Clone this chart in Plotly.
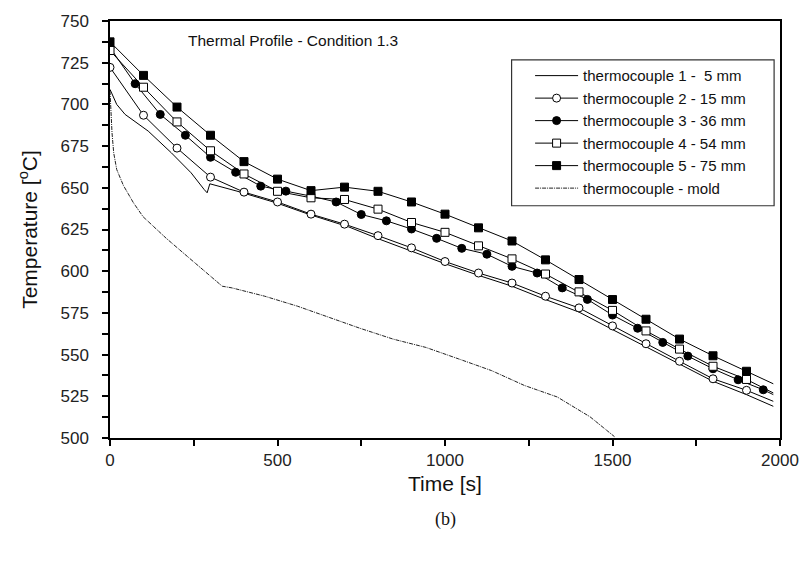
import plotly.graph_objects as go

# ---- data ----
t_tc1 = [0, 20, 45, 114, 183, 242, 281, 290, 298, 379, 496, 595, 712, 800, 900, 1000,
         1100, 1200, 1300, 1400, 1500, 1600, 1700, 1800, 1900, 1980]
T_tc1 = [709, 700, 694, 684, 671, 659, 649, 647, 652.4, 648, 641, 634, 626.6, 619.5, 612, 604.5,
         597.5, 591, 583, 575.5, 565, 554.5, 544.5, 534, 526, 519]

t_tc2 = [0, 100, 200, 300, 400, 500, 600, 700, 800, 900, 1000, 1100, 1200, 1300, 1400,
         1500, 1600, 1700, 1800, 1900, 1980]
T_tc2 = [722.2, 693.5, 673.8, 656.4, 647.4, 641.5, 634.2, 628.2, 621.3, 614, 605.8, 598.9,
         592.9, 585, 578, 567.2, 556.5, 546, 535.5, 528.6, 522]

t_tc3 = [0, 75, 150, 225, 300, 375, 450, 525, 600, 675, 750, 825, 900, 975, 1050, 1125,
         1200, 1275, 1350, 1425, 1500, 1575, 1650, 1725, 1800, 1875, 1950, 1980]
T_tc3 = [734, 712.4, 694, 681.5, 668.3, 659.3, 651, 648, 645, 641.5, 634, 630.2, 625.3, 619.7,
         613.7, 610.2, 602.9, 598.9, 590, 583.1, 573.7, 565.8, 557.3, 549.1, 541.5, 534.9,
         528.9, 526]

t_tc4 = [0, 100, 200, 300, 400, 500, 600, 700, 800, 900, 1000, 1100, 1200, 1300, 1400,
         1500, 1600, 1700, 1800, 1900, 1980]
T_tc4 = [732.3, 710.3, 689.5, 672.2, 658.3, 647.9, 644, 643, 637.2, 629.2, 623.3, 615.2,
         607.4, 598.3, 587.6, 576.5, 564.2, 553.3, 543, 535.1, 527]

t_tc5 = [0, 100, 200, 300, 400, 500, 600, 700, 800, 900, 1000, 1100, 1200, 1300, 1400,
         1500, 1600, 1700, 1800, 1900, 1980]
T_tc5 = [737.5, 717.4, 698.4, 681.5, 665.7, 655.2, 648.3, 650.4, 647.9, 641.5, 634.2, 626,
         618.1, 606.8, 595, 583, 571.2, 559.3, 549.3, 540, 532.5]

t_mold = [0, 3, 6, 11, 20, 40, 70, 99, 168, 237, 295, 335, 364, 462, 560, 658, 746, 845,
          943, 1041, 1139, 1237, 1335, 1433, 1506]
T_mold = [708, 695, 683, 671, 661, 651.4, 641, 632.6, 619.7, 607.8, 597.9, 591, 590, 585,
          579, 572, 565.8, 559.3, 554.3, 547.4, 540.4, 531.5, 524.6, 512.7, 500.8]

names = ["thermocouple 1 -  5 mm", "thermocouple 2 - 15 mm", "thermocouple 3 - 36 mm",
         "thermocouple 4 - 54 mm", "thermocouple 5 - 75 mm", "thermocouple - mold"]

x_ticks = [0, 500, 1000, 1500, 2000]
y_ticks = [500, 525, 550, 575, 600, 625, 650, 675, 700, 725, 750]

FONT = "Liberation Sans, Arial, sans-serif"
MOLD_LINE = dict(color="#222222", width=1, dash="4px,1px,1px,1px")

fig = go.Figure()

series = [
    (t_tc1, T_tc1, None, None),
    (t_tc2, T_tc2, "circle", "white"),
    (t_tc3, T_tc3, "circle", "black"),
    (t_tc4, T_tc4, "square", "white"),
    (t_tc5, T_tc5, "square", "black"),
]

# lines
for tx, ty, sym, fill in series:
    fig.add_trace(go.Scatter(x=tx, y=ty, mode="lines", line=dict(color="black", width=1),
                             showlegend=False, hoverinfo="skip"))
fig.add_trace(go.Scatter(x=t_mold, y=T_mold, mode="lines", line=MOLD_LINE,
                         showlegend=False, hoverinfo="skip"))
# markers (all points except the final line end)
for tx, ty, sym, fill in series:
    if sym is None:
        continue
    fig.add_trace(go.Scatter(x=tx[:-1], y=ty[:-1], mode="markers",
                             marker=dict(symbol=sym, size=8, color=fill,
                                         line=dict(color="black", width=1)),
                             showlegend=False, hoverinfo="skip"))
# legend entries
for i, (tx, ty, sym, fill) in enumerate(series):
    if sym is None:
        fig.add_trace(go.Scatter(x=[None], y=[None], mode="lines", name=names[i],
                                 line=dict(color="black", width=1)))
    else:
        fig.add_trace(go.Scatter(x=[None], y=[None], mode="lines+markers", name=names[i],
                                 line=dict(color="black", width=1),
                                 marker=dict(symbol=sym, size=8, color=fill,
                                             line=dict(color="black", width=1))))
fig.add_trace(go.Scatter(x=[None], y=[None], mode="lines", name=names[5], line=MOLD_LINE))

axis_common = dict(showline=True, linecolor="black", linewidth=1.5, mirror=True,
                   ticks="outside", ticklen=6, tickwidth=1.5, tickcolor="black",
                   showgrid=False, zeroline=False,
                   tickfont=dict(family=FONT, size=17, color="#222"))

fig.update_xaxes(range=[0, 2000], tickvals=x_ticks, ticklabelstandoff=0,
                 minor=dict(ticks="outside", ticklen=6, tickwidth=1.5, tickcolor="black",
                            dtick=250, showgrid=False),
                 title=dict(text="Time [s]", font=dict(family=FONT, size=21, color="#111"),
                            standoff=7),
                 **axis_common)
fig.update_yaxes(range=[500, 750], tickvals=y_ticks, ticklabelstandoff=10,
                 minor=dict(ticks="outside", ticklen=6, tickwidth=1.5, tickcolor="black",
                            dtick=12.5, showgrid=False),
                 title=dict(text="Temperature [<sup>o</sup>C]",
                            font=dict(family=FONT, size=21, color="#111"), standoff=17),
                 **axis_common)

fig.update_layout(
    width=811, height=567,
    margin=dict(l=110, r=22, t=18, b=129),
    paper_bgcolor="white", plot_bgcolor="white",
    showlegend=True,
    legend=dict(x=0.627, y=0.908, xanchor="left", yanchor="top",
                bgcolor="rgba(0,0,0,0)", borderwidth=0,
                itemwidth=43, tracegroupgap=0,
                font=dict(family=FONT, size=15, color="#111")),
    shapes=[dict(type="rect", xref="paper", yref="paper", x0=0.5994, x1=0.9912,
                 y0=0.557, y1=0.907, line=dict(color="#333", width=1.2),
                 fillcolor="rgba(0,0,0,0)")],
    annotations=[
        dict(text="Thermal Profile - Condition 1.3", xref="paper", yref="paper",
             x=0.113, y=0.953, xanchor="left", yanchor="middle", showarrow=False,
             font=dict(family=FONT, size=15.5, color="#111")),
        dict(text="(b)", xref="paper", yref="paper", x=0.5, y=-0.195,
             xanchor="center", yanchor="middle", showarrow=False,
             font=dict(family="Liberation Serif, Times New Roman, serif", size=18,
                       color="#111")),
    ],
)

fig.write_html("out.html")
